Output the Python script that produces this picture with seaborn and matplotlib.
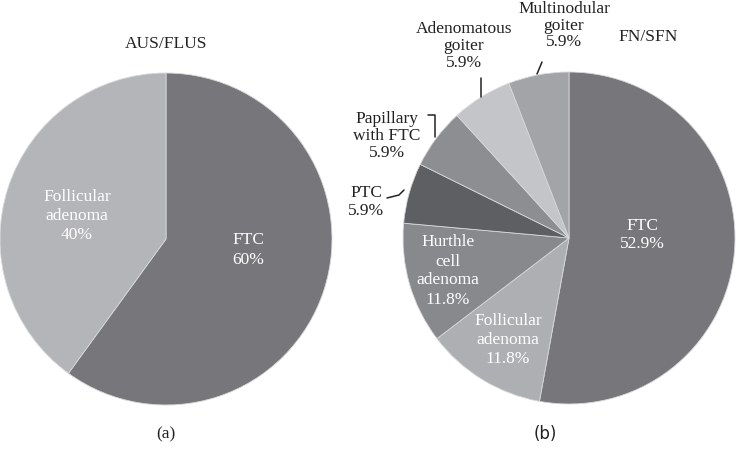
import matplotlib
matplotlib.use("Agg")
import matplotlib.pyplot as plt
import seaborn as sns

sns.set_theme(style="white")
plt.rcParams['font.family'] = ['Liberation Serif', 'DejaVu Serif']

# panel (a) AUS/FLUS
aus_labels = ["FTC", "Follicular\nadenoma"]
aus_values = [60, 40]
aus_colors = ["#77777b", "#b4b5b9"]

# panel (b) FN/SFN
fn_labels = ["FTC", "Follicular\nadenoma", "Hurthle\ncell\nadenoma", "PTC",
             "Papillary\nwith FTC", "Adenomatous\ngoiter", "Multinodular\ngoiter"]
fn_values = [52.9, 11.8, 11.8, 5.9, 5.9, 5.9, 5.9]
fn_colors = ["#77777b", "#aeafb3", "#88898d", "#5e5f63", "#8d8e92", "#c4c5c9", "#a3a4a8"]

W, H = 736, 449
fig = plt.figure(figsize=(W / 100, H / 100), dpi=100)
ax = fig.add_axes([0, 0, 1, 1])


def py(y):
    # pixel row -> data y
    return H - y


fs = 12.5
ax.pie(aus_values, colors=aus_colors, startangle=90, counterclock=False,
       center=(166, py(239)), radius=166, frame=True,
       wedgeprops=dict(linewidth=0.6, edgecolor="#d8d8da"))
ax.pie(fn_values, colors=fn_colors, startangle=90, counterclock=False,
       center=(569, py(238)), radius=166, frame=True,
       wedgeprops=dict(linewidth=0.6, edgecolor="#d8d8da"))
ax.set_xlim(0, W)
ax.set_ylim(0, H)
ax.set_aspect("equal")
ax.axis("off")

white = dict(color="white", fontsize=fs, ha="center", va="center", linespacing=1.25)
black = dict(color="#222222", fontsize=fs, ha="center", va="center", linespacing=1.1)

# inner labels
ax.text(248, py(250), f"{aus_labels[0]}\n{aus_values[0]}%", **white)
ax.text(77, py(216), f"{aus_labels[1]}\n{aus_values[1]}%", **white)
ax.text(642, py(235), f"{fn_labels[0]}\n{fn_values[0]}%", **white)
ax.text(508, py(340), f"{fn_labels[1]}\n{fn_values[1]}%", **white)
ax.text(448, py(271), f"{fn_labels[2]}\n{fn_values[2]}%", **white)

# outer labels
ax.text(366, py(202), f"{fn_labels[3]}\n{fn_values[3]}%", **black)
ax.text(387, py(136), f"{fn_labels[4]}\n{fn_values[4]}%", **black)
ax.text(464, py(46), f"{fn_labels[5]}\n{fn_values[5]}%", **black)
ax.text(564, py(1), f"{fn_labels[6]}\n{fn_values[6]}%",
        **{**black, "va": "top", "linespacing": 1.05})

lk = dict(color="#222222", linewidth=1.1)
ax.plot([387, 399, 404], [py(198), py(195), py(190)], **lk)
ax.plot([428, 435, 435], [py(115), py(115), py(137)], **lk)
ax.plot([481, 481], [py(78), py(97)], **lk)
ax.plot([537, 542], [py(74), py(62)], **lk)

# titles
ax.text(166, py(44), "AUS/FLUS", **black)
ax.text(648, py(37), "FN/SFN", **black)
ax.text(166, py(434), "(a)", **black)
ax.text(545, py(434), "(b)", color="#222222", fontsize=fs - 0.5, ha="center", va="center",
        family=["DejaVu Sans"])

fig.savefig("out.png", dpi=100)
